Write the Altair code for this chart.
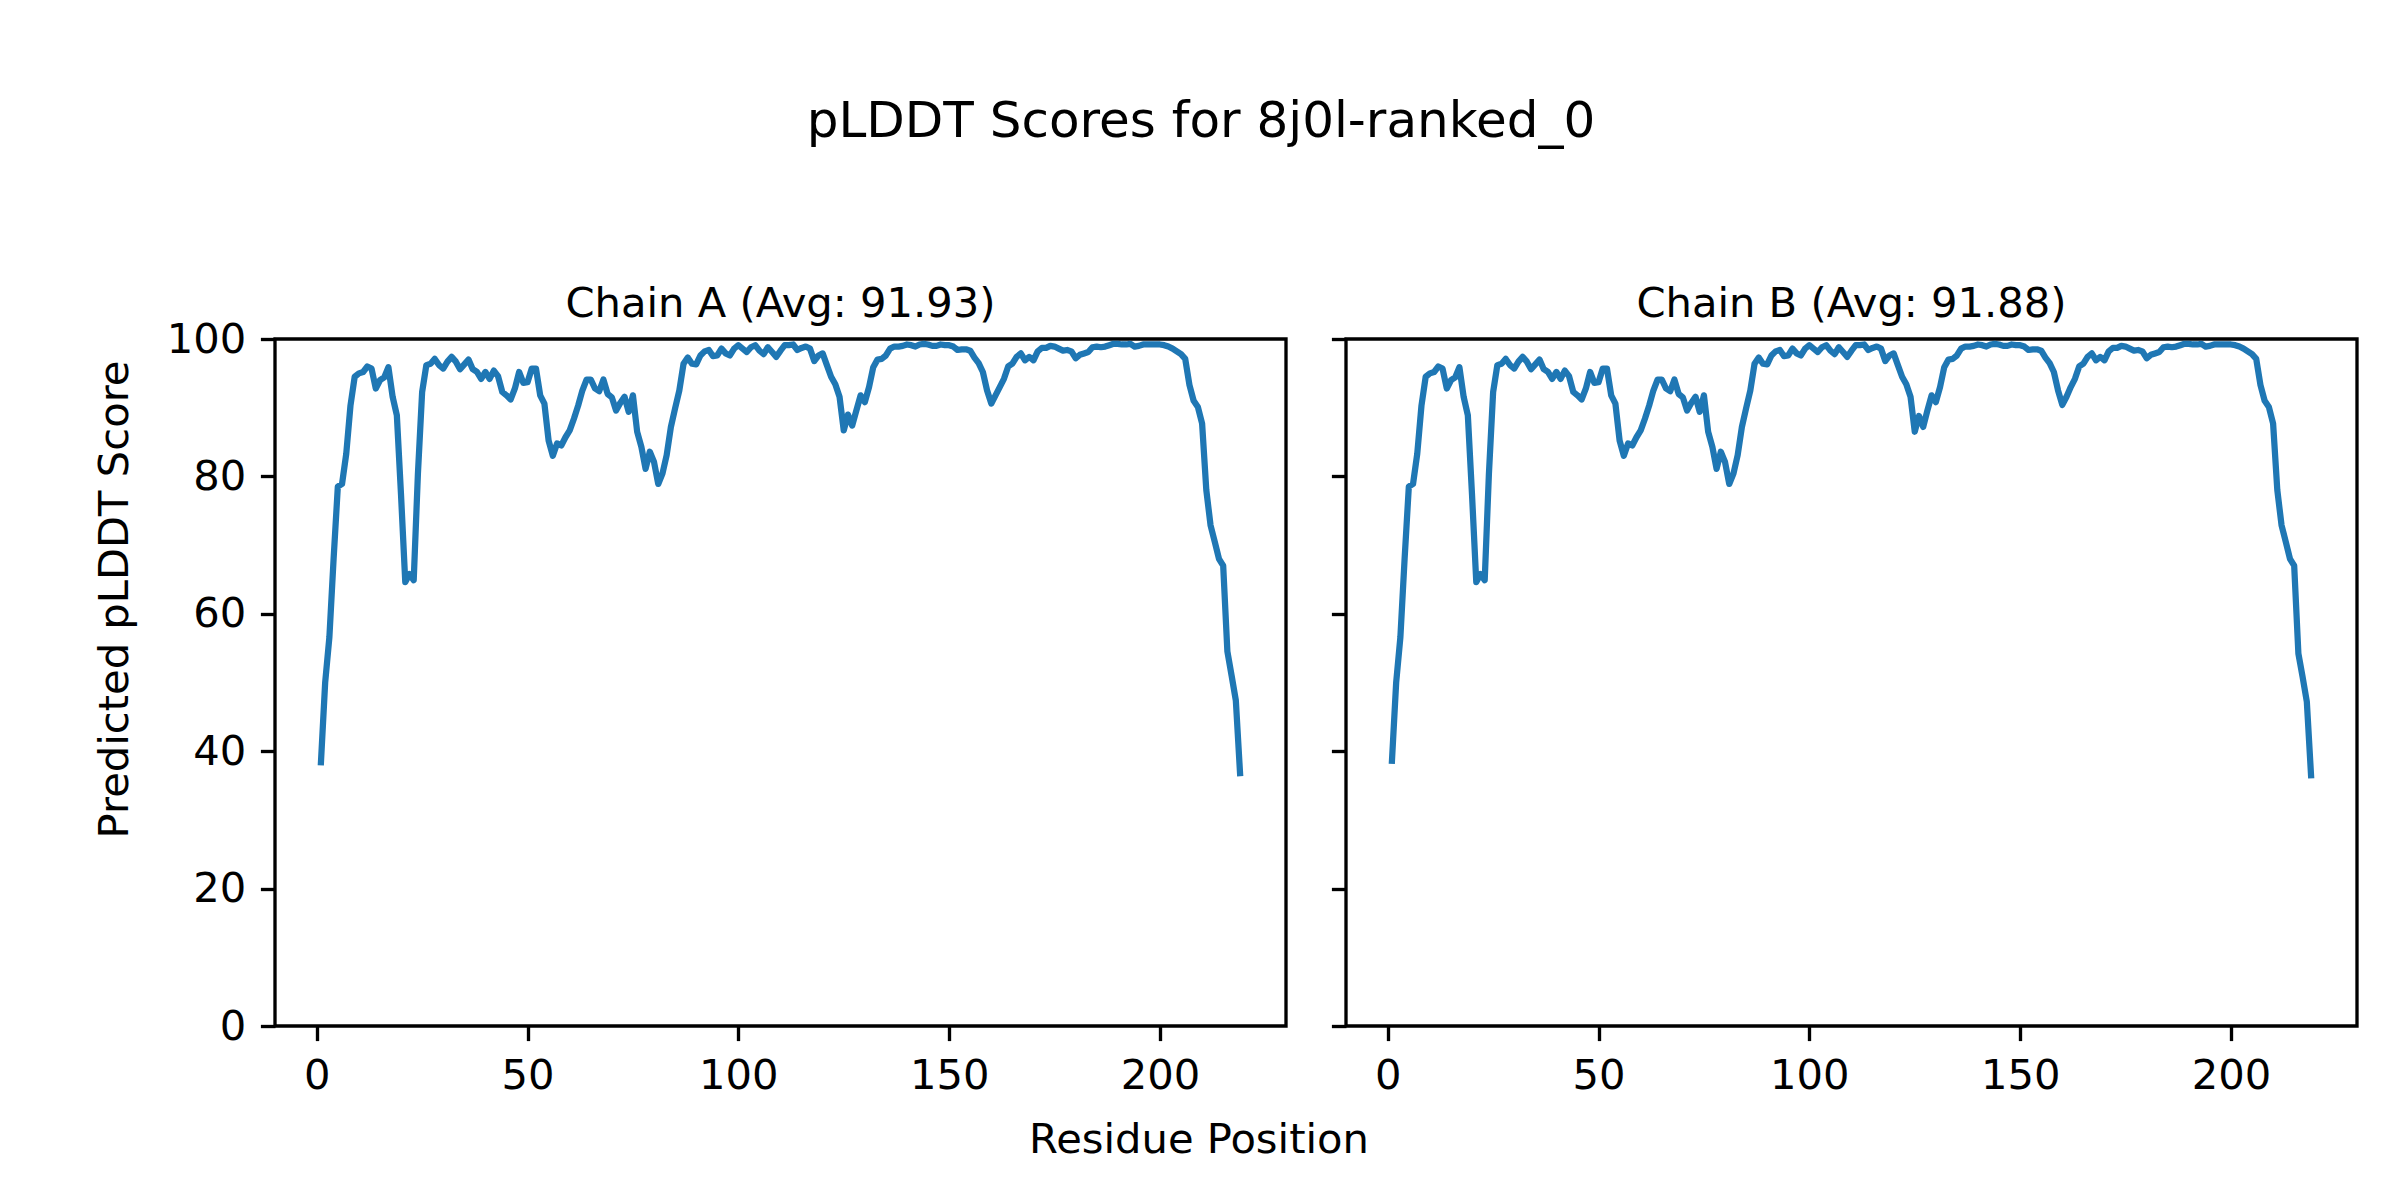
import altair as alt
import pandas as pd

# ---------------- data ----------------
residues = list(range(1, 220))

chain_a = [
    38.4, 50.0, 56.6, 68.0, 78.5, 78.9, 83.3, 90.3, 94.5, 95.0,
    95.2, 96.0, 95.7, 92.8, 94.0, 94.4, 95.9, 91.6, 88.9, 77.2,
    64.6, 65.8, 64.9, 80.4, 92.3, 96.2, 96.4, 97.1, 96.2, 95.7,
    96.7, 97.4, 96.7, 95.6, 96.3, 97.0, 95.6, 95.2, 94.2, 95.2,
    94.2, 95.4, 94.6, 92.3, 91.8, 91.2, 92.8, 95.2, 93.6, 93.7,
    95.7, 95.7, 91.8, 90.6, 85.2, 83.0, 84.8, 84.5, 85.7, 86.7,
    88.4, 90.3, 92.5, 94.1, 94.1, 92.8, 92.4, 94.1, 92.0, 91.5,
    89.6, 90.7, 91.6, 89.4, 91.8, 86.5, 84.3, 81.1, 83.6, 82.1,
    78.9, 80.4, 83.1, 87.2, 89.9, 92.5, 96.4, 97.3, 96.4, 96.3,
    97.6, 98.2, 98.4, 97.5, 97.6, 98.6, 97.9, 97.6, 98.6, 99.1,
    98.6, 98.1, 98.8, 99.1, 98.3, 97.8, 98.8, 98.1, 97.4, 98.3,
    99.1, 99.1, 99.2, 98.4, 98.7, 98.9, 98.6, 96.8, 97.6, 97.9,
    96.2, 94.5, 93.4, 91.6, 86.7, 89.0, 87.4, 89.6, 91.8, 90.8,
    93.0, 95.9, 97.0, 97.1, 97.6, 98.6, 98.9, 98.9, 99.0, 99.2,
    99.1, 98.9, 99.2, 99.3, 99.2, 99.0, 99.0, 99.2, 99.1, 99.1,
    98.9, 98.4, 98.5, 98.5, 98.3, 97.3, 96.5, 95.2, 92.5, 90.6,
    91.8, 93.0, 94.2, 96.0, 96.4, 97.4, 97.9, 96.9, 97.4, 96.9,
    98.2, 98.7, 98.7, 99.0, 98.9, 98.6, 98.3, 98.4, 98.2, 97.2,
    97.7, 97.9, 98.1, 98.8, 98.9, 98.8, 98.9, 99.1, 99.3, 99.3,
    99.2, 99.2, 99.3, 98.9, 99.0, 99.2, 99.2, 99.2, 99.2, 99.2,
    99.1, 98.9, 98.6, 98.2, 97.8, 97.1, 93.3, 91.0, 90.1, 87.7,
    78.0, 72.9, 70.5, 68.0, 67.0, 54.5, 51.0, 47.4, 36.8,
]

chain_b = [
    38.6, 50.0, 56.6, 68.0, 78.5, 78.9, 83.3, 90.3, 94.5, 95.0,
    95.2, 96.0, 95.7, 92.8, 94.0, 94.4, 95.9, 91.6, 88.9, 77.2,
    64.6, 65.8, 64.9, 80.4, 92.3, 96.2, 96.4, 97.1, 96.2, 95.7,
    96.7, 97.4, 96.7, 95.6, 96.3, 97.0, 95.6, 95.2, 94.2, 95.2,
    94.2, 95.4, 94.6, 92.3, 91.8, 91.2, 92.8, 95.2, 93.6, 93.7,
    95.7, 95.7, 91.8, 90.6, 85.2, 83.0, 84.8, 84.5, 85.7, 86.7,
    88.4, 90.3, 92.5, 94.1, 94.1, 92.8, 92.4, 94.1, 92.0, 91.5,
    89.6, 90.7, 91.6, 89.4, 91.8, 86.5, 84.3, 81.1, 83.6, 82.1,
    78.9, 80.4, 83.1, 87.2, 89.9, 92.5, 96.4, 97.3, 96.4, 96.3,
    97.6, 98.2, 98.4, 97.5, 97.6, 98.6, 97.9, 97.6, 98.6, 99.1,
    98.6, 98.1, 98.8, 99.1, 98.3, 97.8, 98.8, 98.1, 97.4, 98.3,
    99.1, 99.1, 99.2, 98.4, 98.7, 98.9, 98.6, 96.8, 97.6, 97.9,
    96.2, 94.5, 93.4, 91.6, 86.5, 88.8, 87.2, 89.6, 91.8, 90.8,
    93.0, 95.9, 97.0, 97.1, 97.6, 98.6, 98.9, 98.9, 99.0, 99.2,
    99.1, 98.9, 99.2, 99.3, 99.2, 99.0, 99.0, 99.2, 99.1, 99.1,
    98.9, 98.4, 98.5, 98.5, 98.3, 97.3, 96.5, 95.2, 92.5, 90.4,
    91.6, 93.0, 94.2, 96.0, 96.4, 97.4, 97.9, 96.9, 97.4, 96.9,
    98.2, 98.7, 98.7, 99.0, 98.9, 98.6, 98.3, 98.4, 98.2, 97.2,
    97.7, 97.9, 98.1, 98.8, 98.9, 98.8, 98.9, 99.1, 99.3, 99.3,
    99.2, 99.2, 99.3, 98.9, 99.0, 99.2, 99.2, 99.2, 99.2, 99.2,
    99.1, 98.9, 98.6, 98.2, 97.8, 97.1, 93.3, 91.0, 90.1, 87.7,
    78.0, 72.9, 70.5, 68.0, 67.0, 54.2, 50.8, 47.2, 36.5,
]

chain_titles = ["Chain A (Avg: 91.93)", "Chain B (Avg: 91.88)"]
suptitle = "pLDDT Scores for 8j0l-ranked_0"
x_label = "Residue Position"
y_label = "Predicted pLDDT Score"
x_ticks = [0, 50, 100, 150, 200]
y_ticks = [0, 20, 40, 60, 80, 100]

# ---------------- style ----------------
W, H = 1011, 687
FONT = "DejaVu Sans"
FS = 41.67
BLUE = "#1f77b4"
TICK = 14.6
LW = 3.33


def text_layer(txt, x, y, size=FS, angle=0, align="center", baseline="alphabetic"):
    return alt.Chart(pd.DataFrame({"t": [txt]})).mark_text(
        font=FONT, fontSize=size, color="black", align=align,
        baseline=baseline, angle=angle,
    ).encode(text="t:N", x=alt.value(x), y=alt.value(y))


def panel(values, title, show_y_labels, extras):
    df = pd.DataFrame({"residue": residues, "plddt": values})
    line = alt.Chart(df).mark_line(
        color=BLUE, strokeWidth=6.25, strokeJoin="round", strokeCap="square"
    ).encode(
        x=alt.X("residue:Q",
                scale=alt.Scale(domain=[-9.9, 229.9], nice=False, zero=False),
                axis=alt.Axis(values=x_ticks, title=None, labelBaseline="top",
                              labelAlign="center")),
        y=alt.Y("plddt:Q",
                scale=alt.Scale(domain=[0, 100], nice=False),
                axis=alt.Axis(values=y_ticks, title=None, labels=show_y_labels,
                              labelBaseline="middle", labelAlign="right")),
    )
    ttl = text_layer(title, W / 2, -22.5)
    return alt.layer(line, ttl, *extras).properties(width=W, height=H)


extras_a = [
    text_layer(suptitle, 926, -202.5, size=50),
    text_layer(x_label, 924, 814),
    text_layer(y_label, -147, 260.5, angle=270),
]

panel_a = panel(chain_a, chain_titles[0], True, extras_a)
panel_b = panel(chain_b, chain_titles[1], False, [])

chart = alt.hconcat(panel_a, panel_b, spacing=60, bounds="flush").properties(
    padding={"left": 85, "top": 86, "right": 20, "bottom": 20},
    background="white",
).configure_view(
    stroke="black", strokeWidth=LW
).configure_axis(
    domain=False, grid=False,
    tickColor="black", tickWidth=LW, tickSize=TICK,
    labelFont=FONT, labelFontSize=FS, labelColor="black",
    labelPadding=TICK,
)

chart.save("out.html", embed_options={"renderer": "svg", "actions": False})
